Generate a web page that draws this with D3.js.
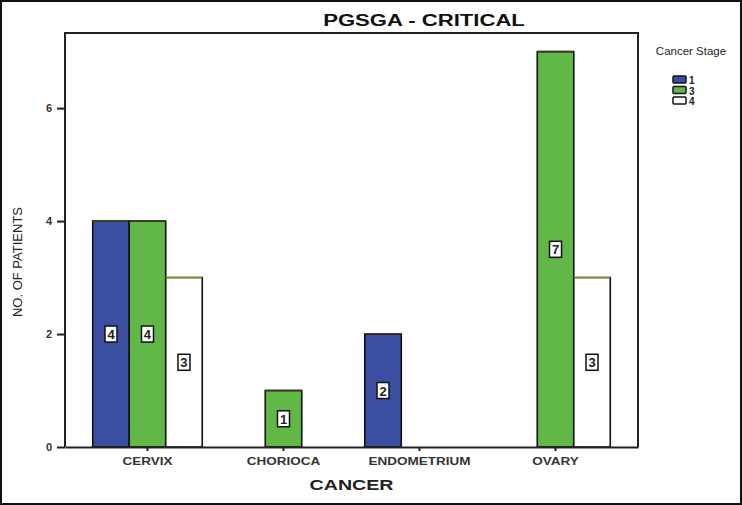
<!DOCTYPE html>
<html lang="en">
<head>
<meta charset="UTF-8">
<title>PGSGA - CRITICAL</title>
<script src="https://d3js.org/d3.v7.min.js"></script>
<style>
    body { margin: 0; background: #fff; }
    svg { display: block; font-family: "Liberation Sans", Arial, sans-serif; }
</style>
</head>
<body>
<div id="chart"></div>
<script>
// data
var categories = ["CERVIX", "CHORIOCA", "ENDOMETRIUM", "OVARY"];
var stages = ["1", "3", "4"];
var stage1 = [4, 0, 2, 0];
var stage3 = [4, 1, 0, 7];
var stage4 = [3, 0, 0, 3];
var yTicks = [0, 2, 4, 6];

var stageColors = { "1": "#3b4fa2", "3": "#62b847", "4": "#ffffff" };

var width = 742, height = 505;
var margin = { left: 65, right: 104, top: 33, bottom: 58 };

var svg = d3.select("#chart").append("svg")
    .attr("width", width)
    .attr("height", height);

// outer border of the figure
svg.append("rect")
    .attr("x", 1).attr("y", 1)
    .attr("width", width - 2).attr("height", height - 2)
    .attr("fill", "none").attr("stroke", "#111").attr("stroke-width", 2);

var x0 = d3.scaleBand()
    .domain(categories)
    .range([margin.left, width - margin.right])
    .paddingInner(0.195)
    .paddingOuter(0.204);

var x1 = d3.scaleBand()
    .domain(stages)
    .range([0, x0.bandwidth()]);

var y = d3.scaleLinear()
    .domain([0, 7.33])
    .range([height - margin.bottom, margin.top]);

var rows = [];
categories.forEach(function(c, i) {
    [stage1[i], stage3[i], stage4[i]].forEach(function(v, j) {
        if (v > 0) rows.push({ cat: c, stage: stages[j], value: v });
    });
});

// bars
var bar = svg.append("g").selectAll("g")
    .data(rows)
    .enter().append("g");

bar.append("rect")
    .attr("x", function(d) { return x0(d.cat) + x1(d.stage); })
    .attr("y", function(d) { return y(d.value); })
    .attr("width", x1.bandwidth())
    .attr("height", function(d) { return y(0) - y(d.value); })
    .attr("fill", function(d) { return stageColors[d.stage]; })
    .attr("stroke", "#111")
    .attr("stroke-width", 1.6);

// olive top edge like the scan
bar.append("line")
    .attr("x1", function(d) { return x0(d.cat) + x1(d.stage); })
    .attr("x2", function(d) { return x0(d.cat) + x1(d.stage) + x1.bandwidth(); })
    .attr("y1", function(d) { return y(d.value); })
    .attr("y2", function(d) { return y(d.value); })
    .attr("stroke", function(d) { return d.stage === "4" ? "#9c8a1e" : "#3a3a20"; })
    .attr("stroke-width", 1.6);

// value boxes
bar.append("rect")
    .attr("x", function(d) { return x0(d.cat) + x1(d.stage) + x1.bandwidth() / 2 - 6; })
    .attr("y", function(d) { return y(d.value / 2) - 8; })
    .attr("width", 12)
    .attr("height", 16)
    .attr("fill", "#fff")
    .attr("stroke", "#111")
    .attr("stroke-width", 1.5);

bar.append("text")
    .attr("x", function(d) { return x0(d.cat) + x1(d.stage) + x1.bandwidth() / 2; })
    .attr("y", function(d) { return y(d.value / 2) + 5; })
    .attr("text-anchor", "middle")
    .attr("font-size", 13)
    .attr("font-weight", "bold")
    .attr("fill", "#222")
    .text(function(d) { return d.value; });

// frame (left, top, right)
svg.append("path")
    .attr("d", "M" + margin.left + "," + y(0) + "V" + margin.top +
               "H" + (width - margin.right) + "V" + y(0))
    .attr("fill", "none").attr("stroke", "#222").attr("stroke-width", 2);

// y axis
var yAxis = svg.append("g")
    .attr("transform", "translate(" + margin.left + ",0)")
    .call(d3.axisLeft(y).tickValues(yTicks).tickSize(8).tickPadding(5));
yAxis.select(".domain").remove();
yAxis.selectAll(".tick line").attr("stroke", "#222").attr("stroke-width", 2);
yAxis.selectAll(".tick text")
    .attr("font-size", 11).attr("font-weight", "bold").attr("fill", "#333")
    .attr("font-family", "\"Liberation Sans\", Arial, sans-serif");

// x axis
var xAxis = svg.append("g")
    .attr("transform", "translate(0," + y(0) + ")")
    .call(d3.axisBottom(x0).tickSize(4).tickSizeOuter(0).tickFormat(""));
xAxis.select(".domain").attr("stroke", "#222").attr("stroke-width", 2);
xAxis.selectAll(".tick line").attr("stroke", "#222").attr("stroke-width", 2);

// x category labels (stretched look of the original)
svg.append("g").selectAll("text")
    .data(categories)
    .enter().append("text")
    .attr("transform", function(d) {
        return "translate(" + (x0(d) + x0.bandwidth() / 2) + "," + (y(0) + 18) + ") scale(1.35,1)";
    })
    .attr("text-anchor", "middle")
    .attr("font-size", 10)
    .attr("font-weight", "bold")
    .attr("fill", "#333")
    .text(function(d) { return d; });

// axis titles
svg.append("text")
    .attr("transform", "translate(" + (x0.range()[0] + x0.range()[1]) / 2 + "," + 490 + ") scale(1.4,1)")
    .attr("text-anchor", "middle")
    .attr("font-size", 14)
    .attr("font-weight", "bold")
    .attr("fill", "#222")
    .text("CANCER");

svg.append("text")
    .attr("transform", "translate(22,262) rotate(-90)")
    .attr("text-anchor", "middle")
    .attr("font-size", 13)
    .attr("fill", "#222")
    .text("NO. OF PATIENTS");

// title
svg.append("text")
    .attr("transform", "translate(424,26) scale(1.3,1)")
    .attr("text-anchor", "middle")
    .attr("font-size", 17)
    .attr("font-weight", "bold")
    .attr("fill", "#111")
    .text("PGSGA - CRITICAL");

// legend
svg.append("text")
    .attr("x", 691).attr("y", 55)
    .attr("text-anchor", "middle")
    .attr("font-size", 11.5)
    .attr("fill", "#222")
    .text("Cancer Stage");

var legend = svg.append("g").selectAll("g")
    .data(stages)
    .enter().append("g")
    .attr("transform", function(d, i) { return "translate(673," + (76 + i * 10.5) + ")"; });

legend.append("rect")
    .attr("width", 13).attr("height", 7)
    .attr("rx", 1)
    .attr("fill", function(d) { return stageColors[d]; })
    .attr("stroke", "#111").attr("stroke-width", 1.5);

legend.append("text")
    .attr("x", 16).attr("y", 8)
    .attr("font-size", 10)
    .attr("font-weight", "bold")
    .attr("fill", "#222")
    .text(function(d) { return d; });
</script>
</body>
</html>
